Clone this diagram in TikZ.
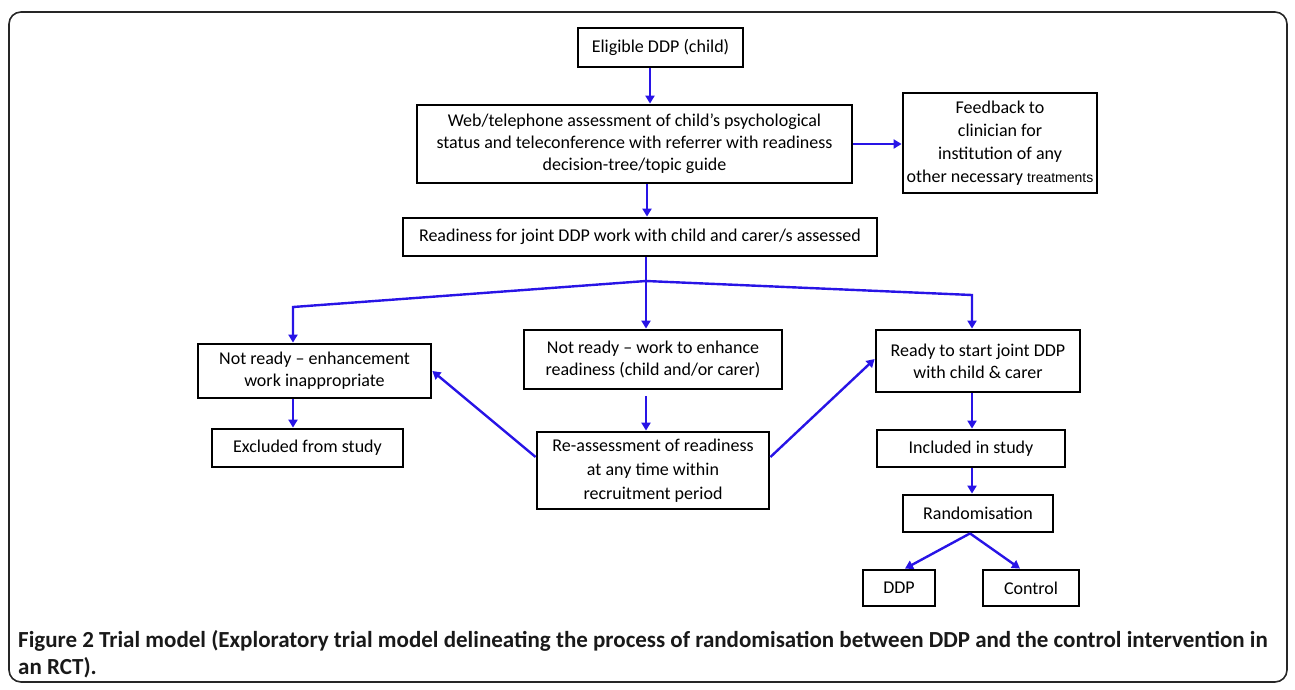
\documentclass[tikz,border=0pt]{standalone}
\usepackage{fontspec}
\setmainfont{Carlito}
\newfontfamily\arialfont{Liberation Sans}
\newfontfamily\capfont{Carlito}
\usetikzlibrary{arrows.meta}
\definecolor{arrblue}{RGB}{40,20,230}
\begin{document}
\begin{tikzpicture}[x=1pt,y=-1pt,
  box/.style={draw=black,line width=2.8pt,inner sep=0pt,align=center,font=\fontsize{18}{22}\selectfont},
  arr/.style={draw=arrblue,line width=2.4pt,-{Triangle[length=8pt,width=9pt]}},
  ln/.style={draw=arrblue,line width=2.4pt},
  captext/.style={anchor=west,inner sep=0pt,font=\capfont\bfseries\fontsize{23}{26}\selectfont,text=black!90}]
\useasboundingbox (0,0) rectangle (1295,689);
\draw[line width=1.6pt, rounded corners=12pt, draw=black!85] (9,12) rectangle (1287,682);

\node[box, minimum width=165pt, minimum height=39pt] (elig) at (660.5,47.5) {Eligible DDP (child)};
\node[box, minimum width=435pt, minimum height=78pt] (web) at (634.5,144) {Web/telephone assessment of child’s psychological\\status and teleconference with referrer with readiness\\decision-tree/topic guide};
\node[box, minimum width=194pt, minimum height=100pt, font=\fontsize{18}{23}\selectfont] (fb) at (1000,143) {Feedback to\\clinician for\\institution of any\\other necessary {\arialfont\fontsize{14}{16}\selectfont treatments}};
\node[box, minimum width=474pt, minimum height=38pt] (ready) at (640,237) {Readiness for joint DDP work with child and carer/s assessed};
\node[box, minimum width=233pt, minimum height=54pt] (nr1) at (314.5,371) {Not ready – enhancement\\work inappropriate};
\node[box, minimum width=191pt, minimum height=38pt] (excl) at (307.5,448) {Excluded from study};
\node[box, minimum width=258pt, minimum height=59pt] (nr2) at (653,359.5) {Not ready – work to enhance\\readiness (child and/or carer)};
\node[box, minimum width=232pt, minimum height=77pt, font=\fontsize{18}{24}\selectfont] (reas) at (653,470.5) {Re-assessment of readiness\\at any time within\\recruitment period};
\node[box, minimum width=204pt, minimum height=62pt] (rdy) at (978,361) {Ready to start joint DDP\\with child \& carer};
\node[box, minimum width=188pt, minimum height=37pt] (incl) at (971,448.5) {Included in study};
\node[box, minimum width=150pt, minimum height=37pt] (rand) at (978,513.5) {Randomisation};
\node[box, minimum width=72pt, minimum height=36pt] (ddp) at (899,588) {DDP};
\node[box, minimum width=96pt, minimum height=36pt] (ctrl) at (1031,588) {Control};

\coordinate (a1) at (650,0);
\coordinate (a2) at (647,0);
\coordinate (br) at (646,281);
\coordinate (bl) at (293,307);
\coordinate (brr) at (972,295);

\draw[arr] (elig.south -| a1) -- (web.north -| a1);
\draw[arr] (web.east) -- (web.east -| fb.west);
\draw[arr] (web.south -| a2) -- (ready.north -| a2);
\draw[ln] (ready.south -| br) -- (br);
\draw[arr] (br) -- (bl) -- (nr1.north -| bl);
\draw[arr] (br) -- (brr) -- (rdy.north -| brr);
\draw[arr] (br) -- (nr2.north -| br);
\draw[arr] (nr1.south -| bl) -- (excl.north -| bl);
\draw[arr] ([yshift=-6pt]nr2.south -| br) -- (reas.north -| br);
\draw[arr] ([yshift=13.5pt]reas.west) -- (nr1.east);
\draw[arr] ([yshift=13.5pt]reas.east) -- ([yshift=2pt]rdy.west);
\draw[arr] (rdy.south -| brr) -- (incl.north -| brr);
\draw[arr] (incl.south -| brr) -- (rand.north -| brr);
\draw[arr] ([xshift=-8pt]rand.south) -- ([xshift=6pt]ddp.north);
\draw[arr] ([xshift=-8pt]rand.south) -- ([xshift=-11pt]ctrl.north);

\node[captext] (cap1) at (18,641) {Figure 2 Trial model (Exploratory trial model delineating the process of randomisation between DDP and the control intervention in};
\node[captext] (cap2) at (18,668) {an RCT).};
\end{tikzpicture}
\end{document}
